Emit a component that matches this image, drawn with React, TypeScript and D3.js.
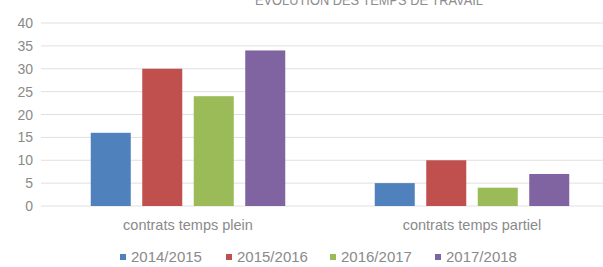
import React from "react";
import * as d3 from "d3";

const categories = ["contrats temps plein", "contrats temps partiel"];
const seriesNames = ["2014/2015", "2015/2016", "2016/2017", "2017/2018"];
const values2014 = [16, 5];
const values2015 = [30, 10];
const values2016 = [24, 4];
const values2017 = [34, 7];
const yTicks = [0, 5, 10, 15, 20, 25, 30, 35, 40];
const colors = ["#4F81BD", "#C0504D", "#9BBB59", "#8064A2"];
const title = "EVOLUTION DES TEMPS DE TRAVAIL";

const W = 603;
const H = 267;

export default function App() {
  const series = [values2014, values2015, values2016, values2017];
  const x0 = d3.scaleBand<string>().domain(categories).range([46, 614]).padding(0);
  const x1 = d3
    .scaleBand<string>()
    .domain(seriesNames)
    .range([0, x0.bandwidth()])
    .paddingInner(0.223)
    .paddingOuter(0.869);
  const y = d3.scaleLinear().domain([0, 40]).range([206, 23]);
  const font = "'Liberation Sans', Arial, sans-serif";
  const legendX = [120, 226, 330, 435];

  return (
    <svg
      width={W}
      height={H}
      style={{ position: "absolute", left: 0, top: 0, background: "#fff" }}
      fontFamily={font}
    >
      <rect x={0} y={0} width={W} height={H} fill="#fff" />
      <text
        x={369}
        y={5}
        textAnchor="middle"
        fontSize={15}
        fill="#8c8c8c"
        textLength={228}
        lengthAdjust="spacingAndGlyphs"
      >
        {title}
      </text>
      {yTicks.map((t) => (
        <g key={t}>
          <line x1={41} x2={603} y1={y(t)} y2={y(t)} stroke="#e0e0e0" strokeWidth={1} />
          <text x={33} y={y(t) + 5} textAnchor="end" fontSize={14} fill="#8a8a8a">
            {t}
          </text>
        </g>
      ))}
      {categories.map((c, ci) => (
        <g key={c} transform={`translate(${x0(c)},0)`}>
          {seriesNames.map((s, si) => (
            <rect
              key={s}
              x={x1(s)}
              y={y(series[si][ci])}
              width={x1.bandwidth()}
              height={y(0) - y(series[si][ci])}
              fill={colors[si]}
            />
          ))}
          <text
            x={x0.bandwidth() / 2}
            y={230}
            textAnchor="middle"
            fontSize={14.5}
            fill="#8a8a8a"
          >
            {c}
          </text>
        </g>
      ))}
      {seriesNames.map((s, i) => (
        <g key={s} transform={`translate(${legendX[i]},0)`}>
          <rect x={0} y={254} width={6} height={6} fill={colors[i]} />
          <text x={11} y={262} fontSize={15} fill="#8a8a8a">
            {s}
          </text>
        </g>
      ))}
    </svg>
  );
}
